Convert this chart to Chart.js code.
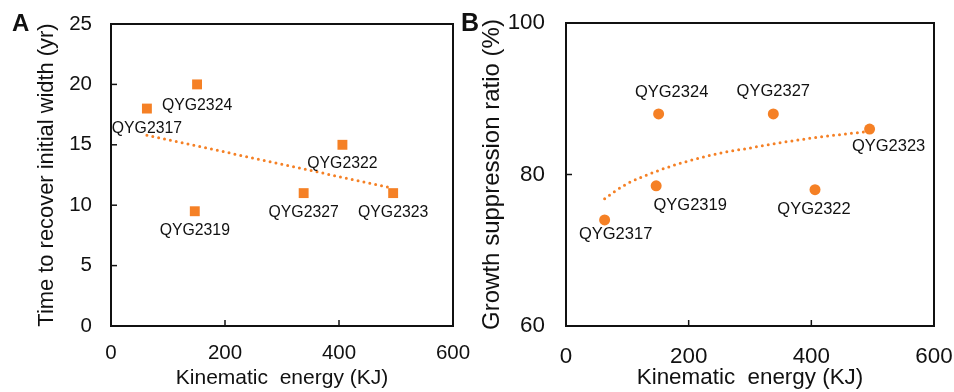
<!DOCTYPE html>
<html>
<head>
<meta charset="utf-8">
<script src="https://cdn.jsdelivr.net/npm/chart.js@4"></script>
<style>
  html, body { margin: 0; padding: 0; background: #fff; }
  #wrap { position: relative; width: 954px; height: 392px; font-family: "Liberation Sans", Arial, sans-serif; }
  .panel { position: absolute; top: 0; width: 477px; height: 392px; }
  .letter { position: absolute; font-weight: bold; color: #111; line-height: 1; }
</style>
</head>
<body>
<div id="wrap">
  <div class="panel" style="left:0"><canvas id="chartA" width="477" height="392"></canvas></div>
  <div class="panel" style="left:477px"><canvas id="chartB" width="477" height="392"></canvas></div>
  <span class="letter" style="left:12px;top:11px;font-size:24px">A</span>
  <span class="letter" style="left:461px;top:10px;font-size:25px">B</span>
</div>
<script>
  const sites = ["QYG2317", "QYG2324", "QYG2319", "QYG2327", "QYG2322", "QYG2323"];
  const energy = [63, 151, 147, 338, 406, 495];
  const recoverYears = [18, 20, 9.5, 11, 15, 11];
  const suppression = [74, 88, 78.5, 88, 78, 86];

  // trendlines
  const trendAx = [63, 495];
  const trendAy = [15.8, 11.4];
  const trendBx = [63, 80, 100, 150, 200, 250, 300, 350, 400, 450, 495];
  const trendBy = [76.8, 77.8, 78.8, 80.5, 81.8, 82.8, 83.5, 84.2, 84.8, 85.3, 85.7];

  const xTicks = [0, 200, 400, 600];
  const yTicksA = [0, 5, 10, 15, 20, 25];
  const yTicksB = [60, 80, 100];

  // label offsets (px) relative to each point
  const labelOffA = [[0, 20], [0, 21], [0, 19], [0, 20], [0, 19], [0, 20]];
  const labelOffB = [[11, 15], [13, -21], [34, 20], [0, -22], [-1, 20], [19, 17]];

  const orange = "#F58025";
  const ink = "#111";
  const fontFam = "'Liberation Sans', Arial, sans-serif";

  const pts = (xs, ys) => xs.map((x, i) => ({ x: x, y: ys[i] }));

  const framePlugin = {
    id: "frame",
    afterDatasetsDraw(chart, args, opts) {
      const { ctx, chartArea: a, scales } = chart;
      ctx.save();
      ctx.strokeStyle = ink;
      ctx.lineWidth = 1.5;
      // inward tick marks
      scales.x.ticks.forEach(t => {
        const px = scales.x.getPixelForValue(t.value);
        ctx.beginPath();
        ctx.moveTo(px, a.bottom);
        ctx.lineTo(px, a.bottom - 6);
        ctx.stroke();
      });
      scales.y.ticks.forEach(t => {
        const py = scales.y.getPixelForValue(t.value);
        ctx.beginPath();
        ctx.moveTo(a.left, py);
        ctx.lineTo(a.left + 6, py);
        ctx.stroke();
      });
      ctx.lineWidth = 2;
      ctx.strokeRect(a.left, a.top, a.right - a.left, a.bottom - a.top);
      // point labels
      ctx.fillStyle = ink;
      ctx.font = opts.labelSize + "px " + fontFam;
      ctx.textAlign = "center";
      ctx.textBaseline = "middle";
      const meta = chart.getDatasetMeta(1);
      meta.data.forEach((el, i) => {
        const off = opts.offsets[i];
        ctx.fillText(sites[i], el.x + off[0], el.y + off[1]);
      });
      ctx.restore();
    }
  };

  function makeChart(id, cfg) {
    return new Chart(document.getElementById(id).getContext("2d"), {
      type: "scatter",
      data: {
        datasets: [
          {
            type: "line",
            data: pts(cfg.trendX, cfg.trendY),
            borderColor: orange,
            borderWidth: 3,
            borderDash: [0, 6],
            borderCapStyle: "round",
            cubicInterpolationMode: "monotone",
            pointRadius: 0,
            fill: false
          },
          {
            data: pts(energy, cfg.values),
            backgroundColor: orange,
            borderColor: orange,
            borderWidth: 0,
            pointStyle: cfg.pointStyle,
            pointRadius: cfg.pointRadius
          }
        ]
      },
      options: {
        responsive: false,
        animation: false,
        events: [],
        layout: { padding: { left: 0, right: cfg.padRight, top: cfg.padTop, bottom: 0 } },
        plugins: {
          legend: { display: false },
          tooltip: { enabled: false },
          frame: { offsets: cfg.offsets, labelSize: cfg.labelSize }
        },
        scales: {
          x: {
            type: "linear",
            min: 0,
            max: 600,
            afterBuildTicks: s => { s.ticks = xTicks.map(v => ({ value: v })); },
            afterFit: s => { s.height = 66; s.paddingLeft = 0; s.paddingRight = 0; },
            grid: { display: false, drawTicks: false },
            border: { display: false },
            ticks: { color: ink, padding: cfg.xTickPad, font: { family: fontFam, size: cfg.tickSize } },
            title: {
              display: true,
              text: "Kinematic  energy (KJ)",
              color: ink,
              font: { family: fontFam, size: cfg.xTitleSize },
              padding: { top: 0, bottom: cfg.xTitlePad }
            }
          },
          y: {
            type: "linear",
            min: cfg.yMin,
            max: cfg.yMax,
            afterBuildTicks: s => { s.ticks = cfg.yTicks.map(v => ({ value: v })); },
            afterFit: s => { s.width = cfg.yWidth; s.paddingTop = 0; s.paddingBottom = 0; },
            grid: { display: false, drawTicks: false },
            border: { display: false },
            ticks: { color: ink, padding: cfg.yTickPad, font: { family: fontFam, size: cfg.tickSize } },
            title: {
              display: true,
              text: cfg.yTitle,
              color: ink,
              font: { family: fontFam, size: cfg.yTitleSize },
              padding: { top: cfg.yTitlePad, bottom: 0 }
            }
          }
        }
      },
      plugins: [framePlugin]
    });
  }

  makeChart("chartA", {
    trendX: trendAx, trendY: trendAy, values: recoverYears,
    pointStyle: "rect", pointRadius: 7,
    offsets: labelOffA, labelSize: 15.8, tickSize: 20.5,
    xTickPad: 15, yTickPad: 19,
    xTitleSize: 21, xTitlePad: 1.4,
    yMin: 0, yMax: 25, yTicks: yTicksA, yWidth: 111,
    yTitle: "Time to recover initial width (yr)", yTitleSize: 21.9, yTitlePad: 33.5,
    padRight: 24, padTop: 24
  });

  makeChart("chartB", {
    trendX: trendBx, trendY: trendBy, values: suppression,
    pointStyle: "circle", pointRadius: 5.5,
    offsets: labelOffB, labelSize: 16.5, tickSize: 22.4,
    xTickPad: 17, yTickPad: 21,
    xTitleSize: 22.4, xTitlePad: 0.6,
    yMin: 60, yMax: 100, yTicks: yTicksB, yWidth: 89,
    yTitle: "Growth suppression ratio (%)", yTitleSize: 24, yTitlePad: 1,
    padRight: 20, padTop: 23
  });
</script>
</body>
</html>
